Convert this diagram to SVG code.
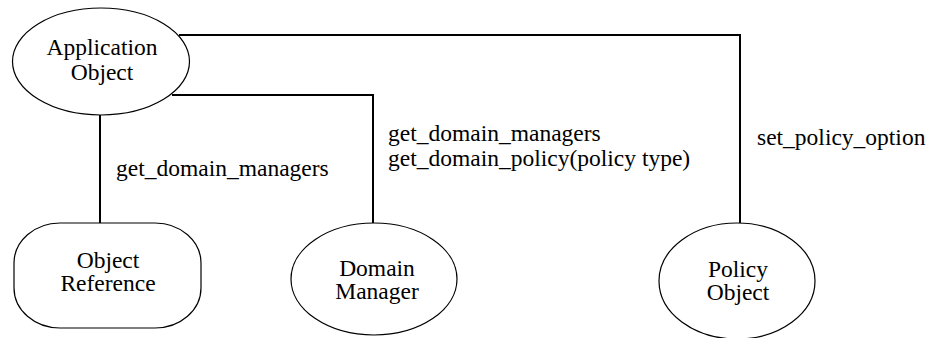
<svg xmlns="http://www.w3.org/2000/svg" width="944" height="338" viewBox="0 0 944 338">
<style>
.n{fill:#fff;stroke:#000;stroke-width:1.2}
.c{fill:none;stroke:#000;stroke-width:2}
text{font-family:"Liberation Serif","Times New Roman",serif;font-size:23.5px;fill:#000}
.m{text-anchor:middle}
</style>
<rect width="944" height="338" fill="#fff"/>
<g id="connectors">
<polyline class="c" points="179,35 740,35 740,223"/>
<polyline class="c" points="172,95 373,95 373,223"/>
<line class="c" x1="100" y1="115" x2="100" y2="223"/>
<text x="116" y="176">get_domain_managers</text>
<text x="388" y="141">get_domain_managers</text>
<text x="388" y="166">get_domain_policy(policy type)</text>
<text x="757" y="145">set_policy_option</text>
</g>
<g id="application-object">
<ellipse class="n" cx="101" cy="61.5" rx="88.5" ry="53.5"/>
<text class="m" x="102" y="55">Application</text>
<text class="m" x="102" y="80">Object</text>
</g>
<g id="object-reference">
<rect class="n" x="14" y="223" width="187" height="105" rx="46" ry="40"/>
<text class="m" x="108" y="268">Object</text>
<text class="m" x="108" y="291">Reference</text>
</g>
<g id="domain-manager">
<ellipse class="n" cx="374" cy="279" rx="83" ry="56"/>
<text class="m" x="377" y="276">Domain</text>
<text class="m" x="377" y="299">Manager</text>
</g>
<g id="policy-object">
<ellipse class="n" cx="737" cy="281" rx="78" ry="58"/>
<text class="m" x="738" y="277">Policy</text>
<text class="m" x="738" y="300">Object</text>
</g>
</svg>
